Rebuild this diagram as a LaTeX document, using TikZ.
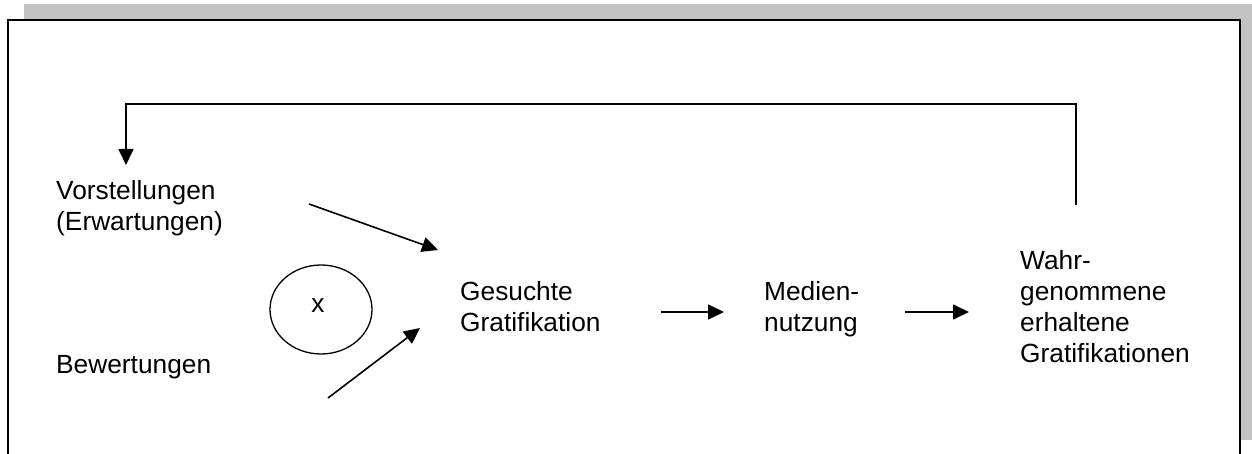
\documentclass[tikz,border=0pt]{standalone}
\usepackage{fontspec}
\setmainfont{Liberation Sans}
\usetikzlibrary{arrows.meta,shapes.geometric}
\definecolor{shadowgray}{RGB}{195,195,195}
\tikzset{
  lbl/.style={anchor=base west, inner sep=0pt, align=left, font=\fontsize{26.3}{31}\selectfont},
  conn/.style={line width=1.6pt, -{Triangle[length=16pt,width=15pt]}},
}
\begin{document}
\begin{tikzpicture}[x=1pt,y=-1pt]
\useasboundingbox (0,0) rectangle (1252,454);
\clip (0,0) rectangle (1252,454);
% shadow and frame
\fill[shadowgray] (24,4) rectangle (1252,440);
\fill[white] (8,20) rectangle (1240,460);
\draw[line width=2.2pt] (8,460) -- (8,20) -- (1240,20) -- (1240,460);
% texts (base anchor = baseline of last line)
\node[lbl] (vor) at (56,231) {Vorstellungen\\(Erwartungen)};
\node[lbl] (bew) at (56,373) {Bewertungen};
\node[lbl] (ges) at (460,331) {Gesuchte\\Gratifikation};
\node[lbl] (med) at (764,331) {Medien-\\nutzung};
\node[lbl] (wah) at (1020,362) {Wahr-\\genommene\\erhaltene\\Gratifikationen};
\node[draw, line width=1.3pt, ellipse, minimum width=102pt, minimum height=89pt, inner sep=0pt] (ell) at (321,309.5) {};
\node[anchor=base, inner sep=0pt, font=\fontsize{26.3}{31}\selectfont] (x) at (318,312) {x};
% coordinates for connector ends
\coordinate (a1s) at (309,204);
\coordinate (a1e) at (438,250);
\coordinate (a2s) at (328,398);
\coordinate (a2e) at (420,328);
\coordinate (h1s) at (661,312);
\coordinate (h1e) at (724,312);
\coordinate (h2s) at (905,312);
\coordinate (h2e) at (969,312);
\coordinate (fbs) at (1076,205);
\coordinate (fbr) at (1076,104);
\coordinate (fbl) at (126,104);
\coordinate (fbe) at (126,165);
% connectors
\draw[conn] (a1s) -- (a1e);
\draw[conn] (a2s) -- (a2e);
\draw[conn] (h1s) -- (h1e);
\draw[conn] (h2s) -- (h2e);
\draw[conn] (fbs) -- (fbr) -- (fbl) -- (fbe);
\end{tikzpicture}
\end{document}
